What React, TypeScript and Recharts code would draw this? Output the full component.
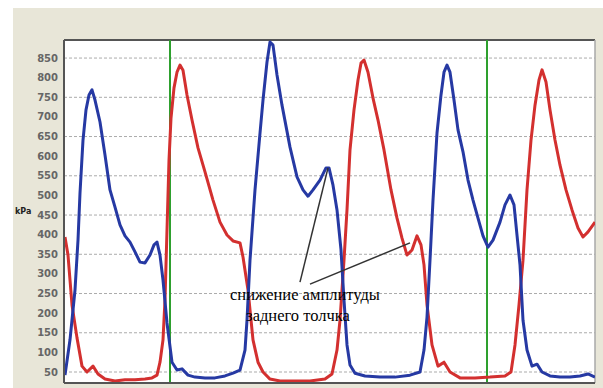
import React from "react";
import {
  LineChart, Line, XAxis, YAxis, CartesianGrid, ReferenceLine, ReferenceDot,
} from "recharts";

// x is a sample index across the trace, y is pressure in kPa
const blueX = [1, 6, 11, 14, 16, 19, 22, 25, 28, 31, 36, 41, 46, 51, 56, 61, 66, 71, 76, 81, 86, 90, 93, 96, 99, 103, 108, 113, 118, 124, 131, 141, 151, 161, 169, 176, 181, 183, 186, 191, 196, 199, 203, 206, 209, 213, 218, 226, 233, 239, 244, 249, 256, 262, 265, 269, 273, 277, 280, 283, 286, 291, 301, 316, 331, 346, 356, 360, 363, 366, 369, 373, 377, 380, 383, 386, 390, 394, 399, 404, 409, 414, 419, 424, 429, 436, 441, 446, 450, 453, 456, 459, 463, 468, 473, 478, 486, 496, 506, 516, 524, 531];
const blueKPa = [42, 132, 259, 386, 506, 641, 718, 756, 769, 743, 687, 603, 514, 470, 425, 397, 381, 356, 330, 328, 348, 374, 381, 348, 284, 175, 75, 55, 58, 42, 37, 35, 35, 40, 47, 55, 106, 182, 335, 514, 659, 743, 840, 891, 883, 807, 730, 623, 547, 514, 498, 514, 539, 570, 570, 526, 463, 361, 233, 119, 68, 47, 40, 37, 37, 42, 50, 106, 190, 335, 488, 659, 756, 814, 832, 814, 743, 667, 611, 539, 488, 442, 397, 368, 386, 432, 476, 501, 476, 399, 323, 182, 106, 65, 70, 50, 40, 37, 37, 40, 45, 37];

const redX = [1, 4, 8, 13, 18, 23, 29, 34, 41, 51, 61, 71, 81, 88, 93, 96, 99, 101, 103, 105, 107, 110, 113, 116, 119, 123, 128, 134, 141, 149, 156, 163, 169, 176, 179, 184, 189, 194, 199, 206, 216, 231, 246, 261, 268, 273, 276, 280, 283, 286, 290, 294, 297, 300, 304, 309, 314, 320, 327, 333, 338, 343, 348, 353, 357, 360, 363, 368, 374, 380, 386, 396, 411, 426, 441, 447, 451, 455, 459, 463, 467, 471, 475, 478, 482, 486, 491, 496, 502, 508, 514, 519, 524, 531];
const redKPa = [394, 348, 221, 137, 65, 50, 65, 45, 32, 27, 30, 30, 32, 35, 42, 75, 132, 233, 412, 590, 697, 774, 814, 832, 819, 756, 692, 621, 560, 488, 432, 399, 384, 379, 343, 259, 132, 75, 50, 32, 27, 27, 27, 32, 45, 106, 182, 335, 463, 616, 718, 794, 837, 845, 814, 748, 692, 616, 514, 442, 391, 348, 361, 397, 374, 323, 221, 119, 65, 75, 50, 35, 35, 37, 40, 50, 119, 221, 335, 514, 641, 730, 794, 820, 789, 718, 641, 577, 514, 463, 417, 394, 407, 432];

const yTicks = [50, 100, 150, 200, 250, 300, 350, 400, 450, 500, 550, 600, 650, 700, 750, 800, 850];
const xGrid = [33, 128, 222, 316, 409, 503];
const markers = [106, 423];
const noteLines = ["снижение амплитуды", "заднего толчка"];

const blueData = blueX.map((x, i) => ({ x, p: blueKPa[i] }));
const redData = redX.map((x, i) => ({ x, p: redKPa[i] }));

export default function App() {
  return (
    <div style={{ position: "absolute", left: 0, top: 0, width: 603, height: 388, background: "#fff" }}>
      <div style={{ position: "absolute", left: 13, top: 8, width: 590, height: 380, background: "#e8e6d8" }} />
      <div style={{ position: "absolute", left: 0, top: 0 }}>
        <LineChart width={603} height={388} margin={{ top: 40, right: 8, bottom: 0, left: 0 }}>
          <CartesianGrid
            fill="#fff"
            stroke="#ababab"
            strokeDasharray="3 2"
            horizontalValues={yTicks}
            verticalValues={xGrid}
          />
          <XAxis
            type="number"
            dataKey="x"
            domain={[0, 531]}
            ticks={xGrid}
            tick={false}
            tickLine={false}
            height={5}
            axisLine={{ stroke: "#555", strokeWidth: 2 }}
            allowDataOverflow
          />
          <YAxis
            type="number"
            domain={[22, 896]}
            ticks={yTicks}
            width={64}
            tickLine={false}
            tickSize={4}
            tickMargin={2}
            allowDataOverflow
            axisLine={{ stroke: "#555", strokeWidth: 2 }}
            tick={{ fill: "#666", fontSize: 10, fontFamily: "DejaVu Sans", fontWeight: "bold" }}
            label={{ value: "kPa", position: "insideLeft", offset: 15, fill: "#222", fontSize: 8, fontWeight: "bold", fontFamily: "DejaVu Sans" }}
          />
          <ReferenceLine y={896} stroke="#555" strokeWidth={2} />
          <ReferenceLine x={531} stroke="#a8a8a8" strokeWidth={1.5} />
          {markers.map((m) => (
            <ReferenceLine key={m} x={m} stroke="#2ea02e" strokeWidth={2} />
          ))}
          <Line data={redData} dataKey="p" type="linear" stroke="#d3302f" strokeWidth={3} dot={false} isAnimationActive={false} strokeLinejoin="round" />
          <Line data={blueData} dataKey="p" type="linear" stroke="#2639a3" strokeWidth={3} dot={false} isAnimationActive={false} strokeLinejoin="round" />
          <ReferenceLine segment={[{ x: 236, y: 279 }, { x: 264, y: 570 }]} stroke="#333" strokeWidth={1.5} />
          <ReferenceLine segment={[{ x: 246, y: 274 }, { x: 346, y: 379 }]} stroke="#333" strokeWidth={1.5} />
          <ReferenceDot x={241} y={248} r={1} fill="none" stroke="none"
            label={{ value: noteLines[0], position: "center", fill: "#000", fontSize: 16.5, fontFamily: "Liberation Serif" }} />
          <ReferenceDot x={234} y={196} r={1} fill="none" stroke="none"
            label={{ value: noteLines[1], position: "center", fill: "#000", fontSize: 16.5, fontFamily: "Liberation Serif" }} />
        </LineChart>
      </div>
    </div>
  );
}
